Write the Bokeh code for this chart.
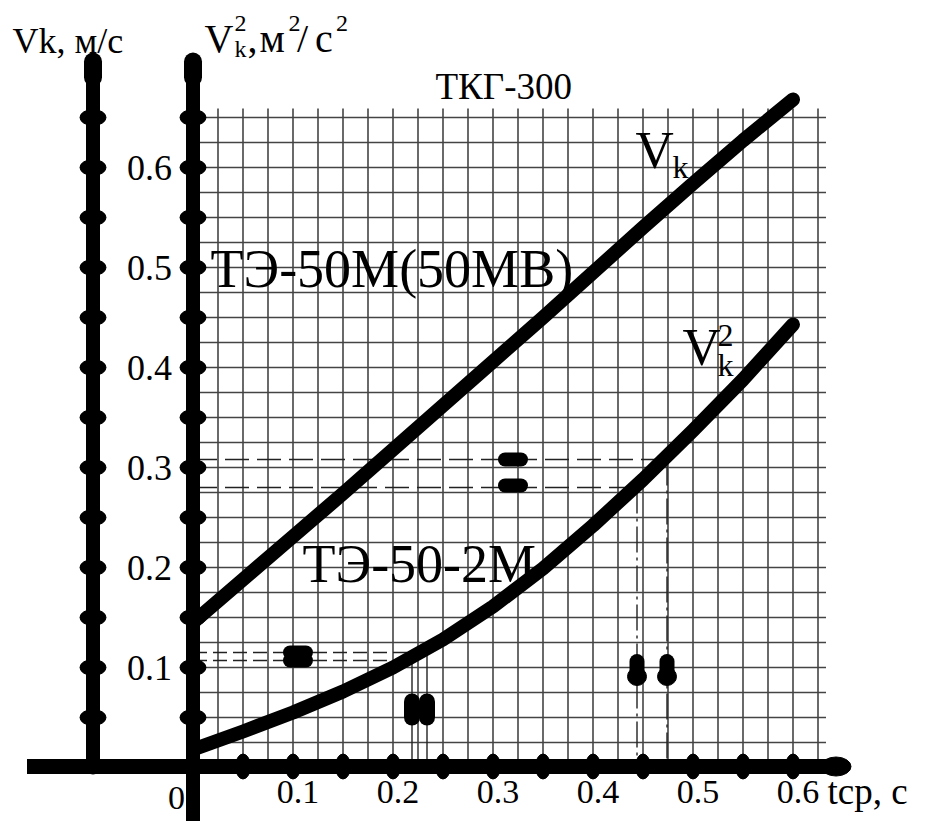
from bokeh.plotting import figure
from bokeh.models import Range1d
from bokeh.core.properties import value
from bokeh.embed import file_html
from bokeh.resources import INLINE

# ---- data ----
t_vals = [0.0, 0.05, 0.1, 0.15, 0.2, 0.25, 0.3, 0.35, 0.4, 0.45, 0.5, 0.55, 0.6]
vk_vals = [0.145, 0.188, 0.231, 0.274, 0.318, 0.362, 0.406, 0.450, 0.495, 0.540, 0.584, 0.627, 0.668]
vk2_vals = [0.018, 0.036, 0.055, 0.076, 0.100, 0.128, 0.161, 0.199, 0.242, 0.288, 0.337, 0.388, 0.443]

y_ticks = [0.1, 0.2, 0.3, 0.4, 0.5, 0.6]
y_tick_labels = ["0.1", "0.2", "0.3", "0.4", "0.5", "0.6"]
x_ticks = [0.1, 0.2, 0.3, 0.4, 0.5, 0.6]
x_tick_labels = ["0.1", "0.2", "0.3", "0.4", "0.5", "0.6"]
y_dot_ticks = [0.05, 0.1, 0.15, 0.2, 0.25, 0.3, 0.35, 0.4, 0.45, 0.5, 0.55, 0.6, 0.65]
x_dot_ticks = [0.05, 0.1, 0.15, 0.2, 0.25, 0.3, 0.35, 0.4, 0.45, 0.5, 0.55, 0.6]
grid_t = [round(0.025 * k, 3) for k in range(1, 26)]
grid_v = [round(0.025 * k, 3) for k in range(1, 27)]

# reading lines (t, v) on the V^2 curve
ref_t = [0.234, 0.219, 0.474, 0.444]
ref_v = [0.115, 0.107, 0.308, 0.280]
# marker pills
hpill_t = [0.105, 0.105, 0.320, 0.320]
hpill_v = [0.115, 0.107, 0.308, 0.282]
vpill_t = [0.219, 0.234, 0.444, 0.474]
vpill_v = [0.058, 0.058, 0.098, 0.098]

AX_V_LEFT = -0.1

p = figure(width=928, height=821, output_backend="svg", toolbar_location=None,
           x_range=Range1d(-0.1925, 0.7355), y_range=Range1d(-0.054, 0.767),
           x_axis_location=None, y_axis_location=None, min_border=0)
p.grid.visible = False
p.outline_line_color = None
p.background_fill_color = "white"
p.border_fill_color = "white"

INK = "black"
GRID = "#444444"
SERIF = value("'Liberation Serif', 'Times New Roman', serif")

# grid
p.segment(x0=grid_t, y0=[0] * len(grid_t), x1=grid_t, y1=[0.659] * len(grid_t),
          line_color=GRID, line_width=1.6)
p.segment(x0=[0] * len(grid_v), y0=grid_v, x1=[0.633] * len(grid_v), y1=grid_v,
          line_color=GRID, line_width=1.6)

# reading lines
p.segment(x0=[0, 0], y0=ref_v[:2], x1=ref_t[:2], y1=ref_v[:2],
          line_color="#222", line_width=1.4, line_dash="14 6")
p.segment(x0=ref_t[:2], y0=ref_v[:2], x1=ref_t[:2], y1=[0, 0],
          line_color="#222", line_width=1.4)
p.segment(x0=[0, 0], y0=ref_v[2:], x1=ref_t[2:], y1=ref_v[2:],
          line_color="#222", line_width=1.4, line_dash="24 8")
p.segment(x0=ref_t[2:], y0=ref_v[2:], x1=ref_t[2:], y1=[0, 0],
          line_color="#222", line_width=1.4, line_dash="26 5 3 5")

# curves
p.line(t_vals, vk_vals, line_color=INK, line_width=14, line_cap="round", line_join="round")
p.line(t_vals, vk2_vals, line_color=INK, line_width=14, line_cap="round", line_join="round")

# pills
p.segment(x0=[t - 0.008 for t in hpill_t], y0=hpill_v, x1=[t + 0.008 for t in hpill_t], y1=hpill_v,
          line_color=INK, line_width=14, line_cap="round")
p.segment(x0=vpill_t[:2], y0=[v - 0.008 for v in vpill_v[:2]], x1=vpill_t[:2], y1=[v + 0.008 for v in vpill_v[:2]],
          line_color=INK, line_width=16, line_cap="round")
p.segment(x0=vpill_t[2:], y0=[v - 0.006 for v in vpill_v[2:]], x1=vpill_t[2:], y1=[v + 0.008 for v in vpill_v[2:]],
          line_color=INK, line_width=15, line_cap="round")
p.ellipse(x=vpill_t[2:], y=[v - 0.007 for v in vpill_v[2:]], width=0.019, height=0.018, color=INK)

# axes
p.segment(x0=[-0.166], y0=[0.001], x1=[0.645], y1=[0.001], line_color=INK, line_width=15, line_cap="butt")
p.ellipse(x=[0.643], y=[0.001], width=0.030, height=0.019, color=INK)
p.segment(x0=[0, AX_V_LEFT], y0=[-0.06, 0], x1=[0, AX_V_LEFT], y1=[0.706, 0.706],
          line_color=INK, line_width=14, line_cap="round")
p.segment(x0=[0, AX_V_LEFT], y0=[0.69, 0.69], x1=[0, AX_V_LEFT], y1=[0.706, 0.706],
          line_color=INK, line_width=18, line_cap="round")
# axis dots
p.ellipse(x=[0] * len(y_dot_ticks), y=y_dot_ticks, width=0.026, height=0.016, color=INK)
p.ellipse(x=[AX_V_LEFT] * len(y_dot_ticks), y=y_dot_ticks, width=0.026, height=0.016, color=INK)
p.ellipse(x=x_dot_ticks, y=[0.001] * len(x_dot_ticks), width=0.015, height=0.025, color=INK)

# tick labels
p.text(x=[-0.021] * len(y_ticks), y=y_ticks, text=y_tick_labels, text_font=SERIF,
       text_font_size="36px", text_align="right", text_baseline="middle", text_color=INK)
p.text(x=[t + 0.005 for t in x_ticks], y=[-0.0245] * len(x_ticks), text=x_tick_labels, text_font=SERIF,
       text_font_size="34px", text_align="center", text_baseline="middle", text_color=INK)


def put(x, y, s, size, align="left"):
    p.text(x=[x], y=[y], text=[s], text_font=SERIF, text_font_size=size,
           text_align=align, text_baseline="middle", text_color=INK)


put(-0.0165, -0.0305, "0", "34px", "center")
put(0.6345, -0.024, "tср, с", "37px")

# axis titles
put(-0.1805, 0.727, "Vk, м/с", "36px")
put(0.0115, 0.729, "V", "40px")
put(0.0415, 0.7445, "2", "24px")
put(0.0415, 0.7185, "k", "24px")
put(0.0545, 0.729, ",", "40px")
put(0.0665, 0.729, "м", "40px")
put(0.0955, 0.7445, "2", "24px")
put(0.1040, 0.729, "/", "40px")
put(0.1220, 0.729, "с", "40px")
put(0.1430, 0.7445, "2", "24px")

# annotations
put(0.2425, 0.6815, "ТКГ-300", "37px")
put(0.0175, 0.499, "ТЭ-50М(50МВ)", "54px")
put(0.1095, 0.2035, "ТЭ-50-2М", "54px")
put(0.4425, 0.6175, "V", "53px")
put(0.4795, 0.601, "k", "32px")
put(0.4895, 0.4205, "V", "53px")
put(0.5245, 0.4325, "2", "32px")
put(0.5245, 0.403, "k", "32px")

open("out.html", "w").write(file_html(p, INLINE))
